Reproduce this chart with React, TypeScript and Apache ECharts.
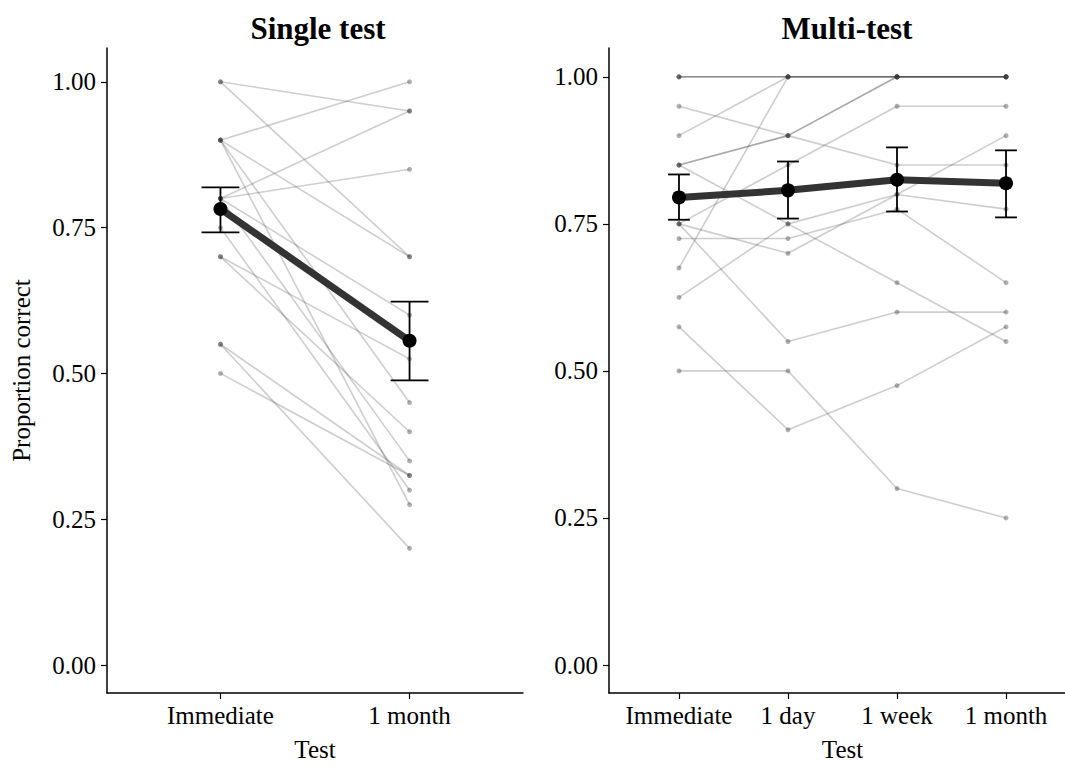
import React, { useEffect, useRef } from "react";
import * as echarts from "echarts";

const singleCategories = ["Immediate", "1 month"];
const multiCategories = ["Immediate", "1 day", "1 week", "1 month"];
const yTicks = [0, 0.25, 0.5, 0.75, 1];

// Single test: each participant's score at Immediate and 1 month
const singleImmediate = [1.0, 1.0, 0.9, 0.9, 0.9, 0.9, 0.8, 0.8, 0.8, 0.8, 0.75, 0.7, 0.7, 0.55, 0.55, 0.5];
const singleMonth = [0.95, 0.7, 1.0, 0.7, 0.45, 0.275, 0.95, 0.85, 0.6, 0.35, 0.3, 0.525, 0.4, 0.325, 0.2, 0.325];

// Multi-test: each participant's score at four tests
const multiImmediate = [1.0, 1.0, 1.0, 0.95, 0.9, 0.85, 0.85, 0.85, 0.75, 0.75, 0.75, 0.725, 0.675, 0.625, 0.575, 0.5];
const multiDay = [1.0, 1.0, 1.0, 0.9, 1.0, 0.9, 0.9, 0.75, 0.85, 0.7, 0.55, 0.725, 1.0, 0.75, 0.4, 0.5];
const multiWeek = [1.0, 1.0, 1.0, 0.85, 1.0, 1.0, 1.0, 0.65, 0.95, 0.8, 0.6, 0.775, 1.0, 0.8, 0.475, 0.3];
const multiMonth = [1.0, 1.0, 1.0, 0.85, 1.0, 1.0, 1.0, 0.55, 0.95, 0.9, 0.6, 0.65, 1.0, 0.775, 0.575, 0.25];

// Group means with error bars
const singleMean = [0.782, 0.556];
const singleLower = [0.742, 0.488];
const singleUpper = [0.819, 0.623];
const multiMean = [0.795, 0.807, 0.825, 0.819];
const multiLower = [0.757, 0.759, 0.771, 0.761];
const multiUpper = [0.834, 0.856, 0.88, 0.875];

const FONT = "'Liberation Serif', 'DejaVu Serif', serif";

export default function App() {
  const ref = useRef<HTMLDivElement>(null);
  useEffect(() => {
    if (!ref.current) return;
    const chart = echarts.init(ref.current, null, { renderer: "svg" });

    const lineColor = "rgba(60,60,60,0.25)";
    const dotColor = "rgba(60,60,60,0.4)";

    const participantSeries: any[] = [];
    singleImmediate.forEach((v, i) => {
      participantSeries.push({
        type: "line",
        xAxisIndex: 0,
        yAxisIndex: 0,
        data: [[1, v], [2, singleMonth[i]]],
        symbol: "circle",
        symbolSize: 5,
        showSymbol: true,
        lineStyle: { color: lineColor, width: 1.6 },
        itemStyle: { color: dotColor },
        z: 1,
        silent: true,
      });
    });
    const multiCols = [multiImmediate, multiDay, multiWeek, multiMonth];
    multiImmediate.forEach((_, i) => {
      participantSeries.push({
        type: "line",
        xAxisIndex: 1,
        yAxisIndex: 1,
        data: multiCols.map((col, k) => [k + 1, col[i]]),
        symbol: "circle",
        symbolSize: 5,
        lineStyle: { color: lineColor, width: 1.6 },
        itemStyle: { color: dotColor },
        z: 1,
        silent: true,
      });
    });

    const errorRender = (params: any, api: any) => {
      const x = api.value(0);
      const lo = api.value(1);
      const hi = api.value(2);
      const pLo = api.coord([x, lo]);
      const pHi = api.coord([x, hi]);
      const half = api.coord([x + 0.1, lo])[0] - pLo[0];
      const style = { stroke: "#000", lineWidth: 1.8, fill: null };
      return {
        type: "group",
        children: [
          { type: "line", shape: { x1: pLo[0], y1: pLo[1], x2: pHi[0], y2: pHi[1] }, style },
          { type: "line", shape: { x1: pLo[0] - half, y1: pLo[1], x2: pLo[0] + half, y2: pLo[1] }, style },
          { type: "line", shape: { x1: pHi[0] - half, y1: pHi[1], x2: pHi[0] + half, y2: pHi[1] }, style },
        ],
      };
    };

    const meanSeries = (mean: number[], lower: number[], upper: number[], idx: number) => [
      {
        type: "custom",
        xAxisIndex: idx,
        yAxisIndex: idx,
        renderItem: errorRender,
        data: mean.map((_, k) => [k + 1, lower[k], upper[k]]),
        z: 3,
        silent: true,
      },
      {
        type: "line",
        xAxisIndex: idx,
        yAxisIndex: idx,
        data: mean.map((m, k) => [k + 1, m]),
        symbol: "circle",
        symbolSize: 14,
        lineStyle: { color: "#333333", width: 7 },
        itemStyle: { color: "#000000" },
        z: 4,
        silent: true,
      },
    ];

    const xAxisBase = (cats: string[], idx: number, min: number, max: number) => ({
      type: "value",
      gridIndex: idx,
      min,
      max,
      name: "Test",
      nameLocation: "middle",
      nameGap: 44,
      nameTextStyle: { fontFamily: FONT, fontSize: 25, color: "#000" },
      axisLine: { show: true, onZero: false, lineStyle: { color: "#000", width: 1.5 } },
      axisTick: { show: true, customValues: cats.map((_, k) => k + 1), length: 6, lineStyle: { color: "#000", width: 1.2 } },
      axisLabel: {
        customValues: cats.map((_, k) => k + 1),
        formatter: (v: number) => cats[Math.round(v) - 1] ?? "",
        fontFamily: FONT,
        fontSize: 25,
        color: "#000",
        margin: 10,
      },
      splitLine: { show: false },
    });

    const yAxisBase = (idx: number, min: number, max: number, name: string) => ({
      type: "value",
      gridIndex: idx,
      min,
      max,
      name,
      nameLocation: "middle",
      nameGap: 73,
      nameTextStyle: { fontFamily: FONT, fontSize: 25, color: "#000" },
      axisLine: { show: true, onZero: false, lineStyle: { color: "#000", width: 1.5 } },
      axisTick: { show: true, customValues: yTicks, length: 6, lineStyle: { color: "#000", width: 1.2 } },
      axisLabel: {
        customValues: yTicks,
        formatter: (v: number) => v.toFixed(2),
        fontFamily: FONT,
        fontSize: 25,
        color: "#000",
        margin: 11,
      },
      splitLine: { show: false },
    });

    chart.setOption({
      animation: false,
      backgroundColor: "#fff",
      title: [
        { text: "Single test", left: 313, top: 8, textAlign: "center", textStyle: { fontFamily: FONT, fontSize: 31, fontWeight: "bold", color: "#000" } },
        { text: "Multi-test", left: 842, top: 8, textAlign: "center", textStyle: { fontFamily: FONT, fontSize: 31, fontWeight: "bold", color: "#000" } },
      ],
      grid: [
        { left: 107, top: 48, width: 416, height: 645 },
        { left: 609, top: 48, width: 467, height: 645 },
      ],
      xAxis: [
        xAxisBase(singleCategories, 0, 0.4, 2.6),
        xAxisBase(multiCategories, 1, 0.358, 4.642),
      ],
      yAxis: [
        yAxisBase(0, -0.048, 1.058, "Proportion correct"),
        yAxisBase(1, -0.0476, 1.049, ""),
      ],
      series: [
        ...participantSeries,
        ...meanSeries(singleMean, singleLower, singleUpper, 0),
        ...meanSeries(multiMean, multiLower, multiUpper, 1),
      ],
    });
    return () => chart.dispose();
  }, []);
  return (
    <div style={{ position: "absolute", left: 0, top: 0, width: 1065, height: 767, overflow: "hidden", background: "#fff" }}>
      <div ref={ref} style={{ width: 1090, height: 767 }} />
    </div>
  );
}
